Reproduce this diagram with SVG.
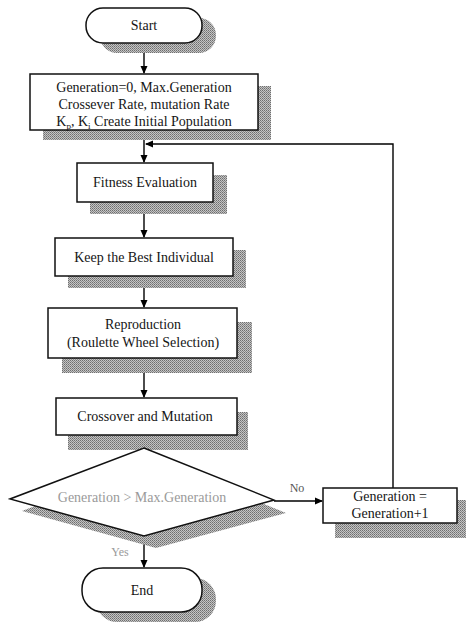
<svg xmlns="http://www.w3.org/2000/svg" width="466" height="623" viewBox="0 0 466 623">
<defs>
<pattern id="dots" width="2" height="2" patternUnits="userSpaceOnUse">
<rect width="2" height="2" fill="#c4c4c4"/>
<rect width="1" height="1" fill="#6e6e6e"/>
<rect x="1" y="1" width="1" height="1" fill="#888"/>
</pattern>
<marker id="arr" markerWidth="8" markerHeight="8" refX="7" refY="4" orient="auto" markerUnits="userSpaceOnUse">
<path d="M0,0.5 L8,4 L0,7.5 Z" fill="#000"/>
</marker>
</defs>
<style>
.box{fill:#fff;stroke:#111;stroke-width:1.5}
.sh{fill:url(#dots);stroke:none}
.t{font-family:"Liberation Serif","Times New Roman",serif;font-size:14px;fill:#151515;text-anchor:middle}
.g{fill:#9a9a9a}
.c{fill:none;stroke:#000;stroke-width:1.4}
</style>
<rect width="466" height="623" fill="#fff"/>

<g id="connectors">
<path class="c" d="M144,43 V73" marker-end="url(#arr)"/>
<path class="c" d="M144,130 V162" marker-end="url(#arr)"/>
<path class="c" d="M144,202 V237" marker-end="url(#arr)"/>
<path class="c" d="M144,276 V307" marker-end="url(#arr)"/>
<path class="c" d="M144,358 V397" marker-end="url(#arr)"/>
<path class="c" d="M144,435 V447" marker-end="url(#arr)"/>
<path class="c" d="M144,536 V567" marker-end="url(#arr)"/>
<path class="c" d="M274,501 H322" marker-end="url(#arr)"/>
<path class="c" d="M393,488 V144 H146" marker-end="url(#arr)"/>
</g>

<g id="start">
<rect class="sh" x="100" y="18" width="116" height="35" rx="17"/>
<rect class="box" x="86" y="8" width="116" height="35" rx="17"/>
<text class="t" x="144" y="30">Start</text>
</g>

<g id="init">
<rect class="sh" x="43" y="86" width="228" height="54"/>
<rect class="box" x="30" y="74" width="228" height="56"/>
<text class="t" x="144" y="92">Generation=0, Max.Generation</text>
<text class="t" x="144" y="109">Crossever Rate, mutation Rate</text>
<text class="t" x="144" y="126">K<tspan font-size="9" dy="3">p</tspan><tspan dy="-3">, K</tspan><tspan font-size="9" dy="3">i</tspan><tspan dy="-3"> Create Initial Population</tspan></text>
</g>

<g id="fitness">
<rect class="sh" x="90" y="175" width="137" height="39"/>
<rect class="box" x="77" y="163" width="136" height="39"/>
<text class="t" x="145" y="187">Fitness Evaluation</text>
</g>

<g id="keep">
<rect class="sh" x="68" y="250" width="178" height="38"/>
<rect class="box" x="55" y="238" width="178" height="38"/>
<text class="t" x="144" y="262">Keep the Best Individual</text>
</g>

<g id="reproduction">
<rect class="sh" x="62" y="322" width="190" height="51"/>
<rect class="box" x="48" y="308" width="189" height="50"/>
<text class="t" x="143" y="329">Reproduction</text>
<text class="t" x="143" y="347">(Roulette Wheel Selection)</text>
</g>

<g id="crossover">
<rect class="sh" x="68" y="412" width="180" height="38"/>
<rect class="box" x="56" y="398" width="181" height="37"/>
<text class="t" x="145" y="421">Crossover and Mutation</text>
</g>

<g id="decision">
<polygon class="sh" points="156,460 286,513 156,548 22,511"/>
<polygon class="box" points="144,448 274,500 144,536 10,499"/>
<text class="t g" x="142" y="502">Generation &gt; Max.Generation</text>
<text class="t" x="297" y="492" style="fill:#555;font-size:12px">No</text>
<text class="t g" x="120" y="556" style="font-size:12px">Yes</text>
</g>

<g id="increment">
<rect class="sh" x="335" y="500" width="131" height="38"/>
<rect class="box" x="323" y="488" width="134" height="35"/>
<text class="t" x="390" y="501">Generation =</text>
<text class="t" x="390" y="518">Generation+1</text>
</g>

<g id="end">
<rect class="sh" x="96" y="578" width="120" height="44" rx="21"/>
<rect class="box" x="82" y="568" width="120" height="44" rx="21"/>
<text class="t" x="142" y="595">End</text>
</g>
</svg>
